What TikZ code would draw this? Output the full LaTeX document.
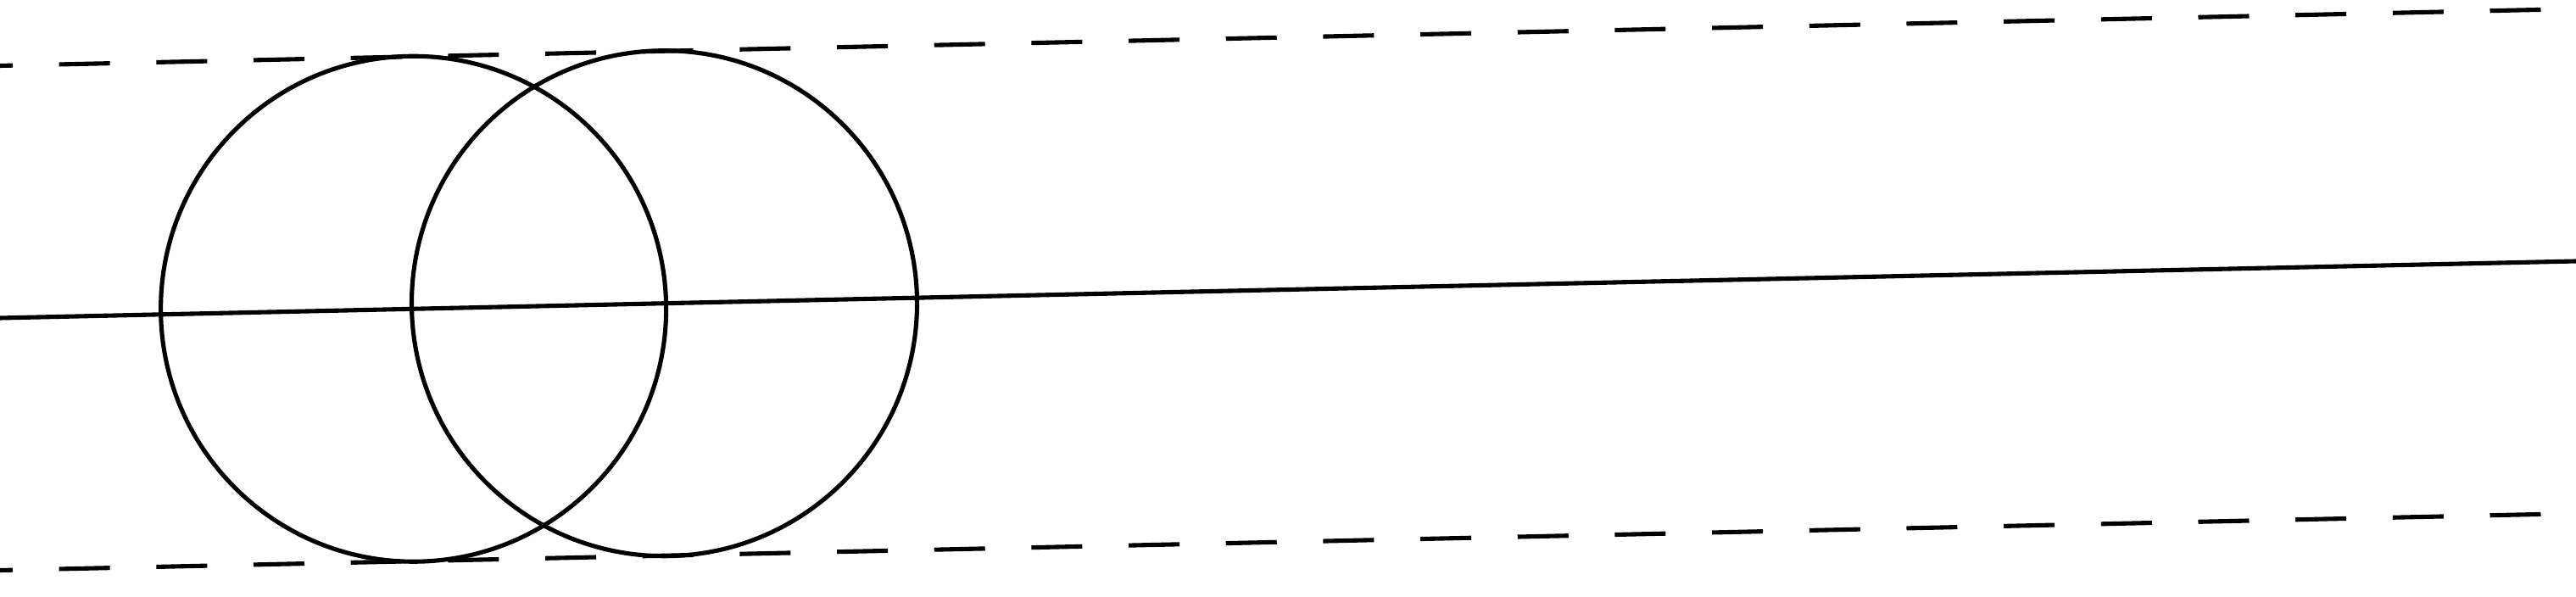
\documentclass[tikz,border=0pt]{standalone}
\usetikzlibrary{positioning, calc}
\tikzset{axis line/.style={line width=1.45pt}}
\tikzset{tangent line/.style={line width=1.45pt, dash pattern=on 0.6cm off 0.547cm, dash phase=0.45cm}}
\tikzset{slice/.style={draw, circle, line width=1.45pt, minimum size=5.96cm, inner sep=0pt}}

\begin{document}
\begin{tikzpicture}
    \useasboundingbox (0,0) rectangle (30.38,7.04);

    \coordinate (axis-l) at (0,3.29);
    \coordinate (axis-r) at (30.38,3.96);

    \coordinate (top-l) at ($(axis-l)+(0,2.975)$);
    \coordinate (top-r) at ($(axis-r)+(0,2.975)$);
    \coordinate (bottom-l) at ($(axis-l)-(0,2.975)$);
    \coordinate (bottom-r) at ($(axis-r)-(0,2.975)$);

    \node[slice] (slice-l) at ($(axis-l)!0.1605!(axis-r)$) {};
    \node[slice] (slice-r) at ($(axis-l)!0.2579!(axis-r)$) {};

    \draw [axis line] (axis-l) to (axis-r);

    \draw [tangent line] (top-l) to (top-r);
    \draw [tangent line] (bottom-l) to (bottom-r);
  \end{tikzpicture}
\end{document}
